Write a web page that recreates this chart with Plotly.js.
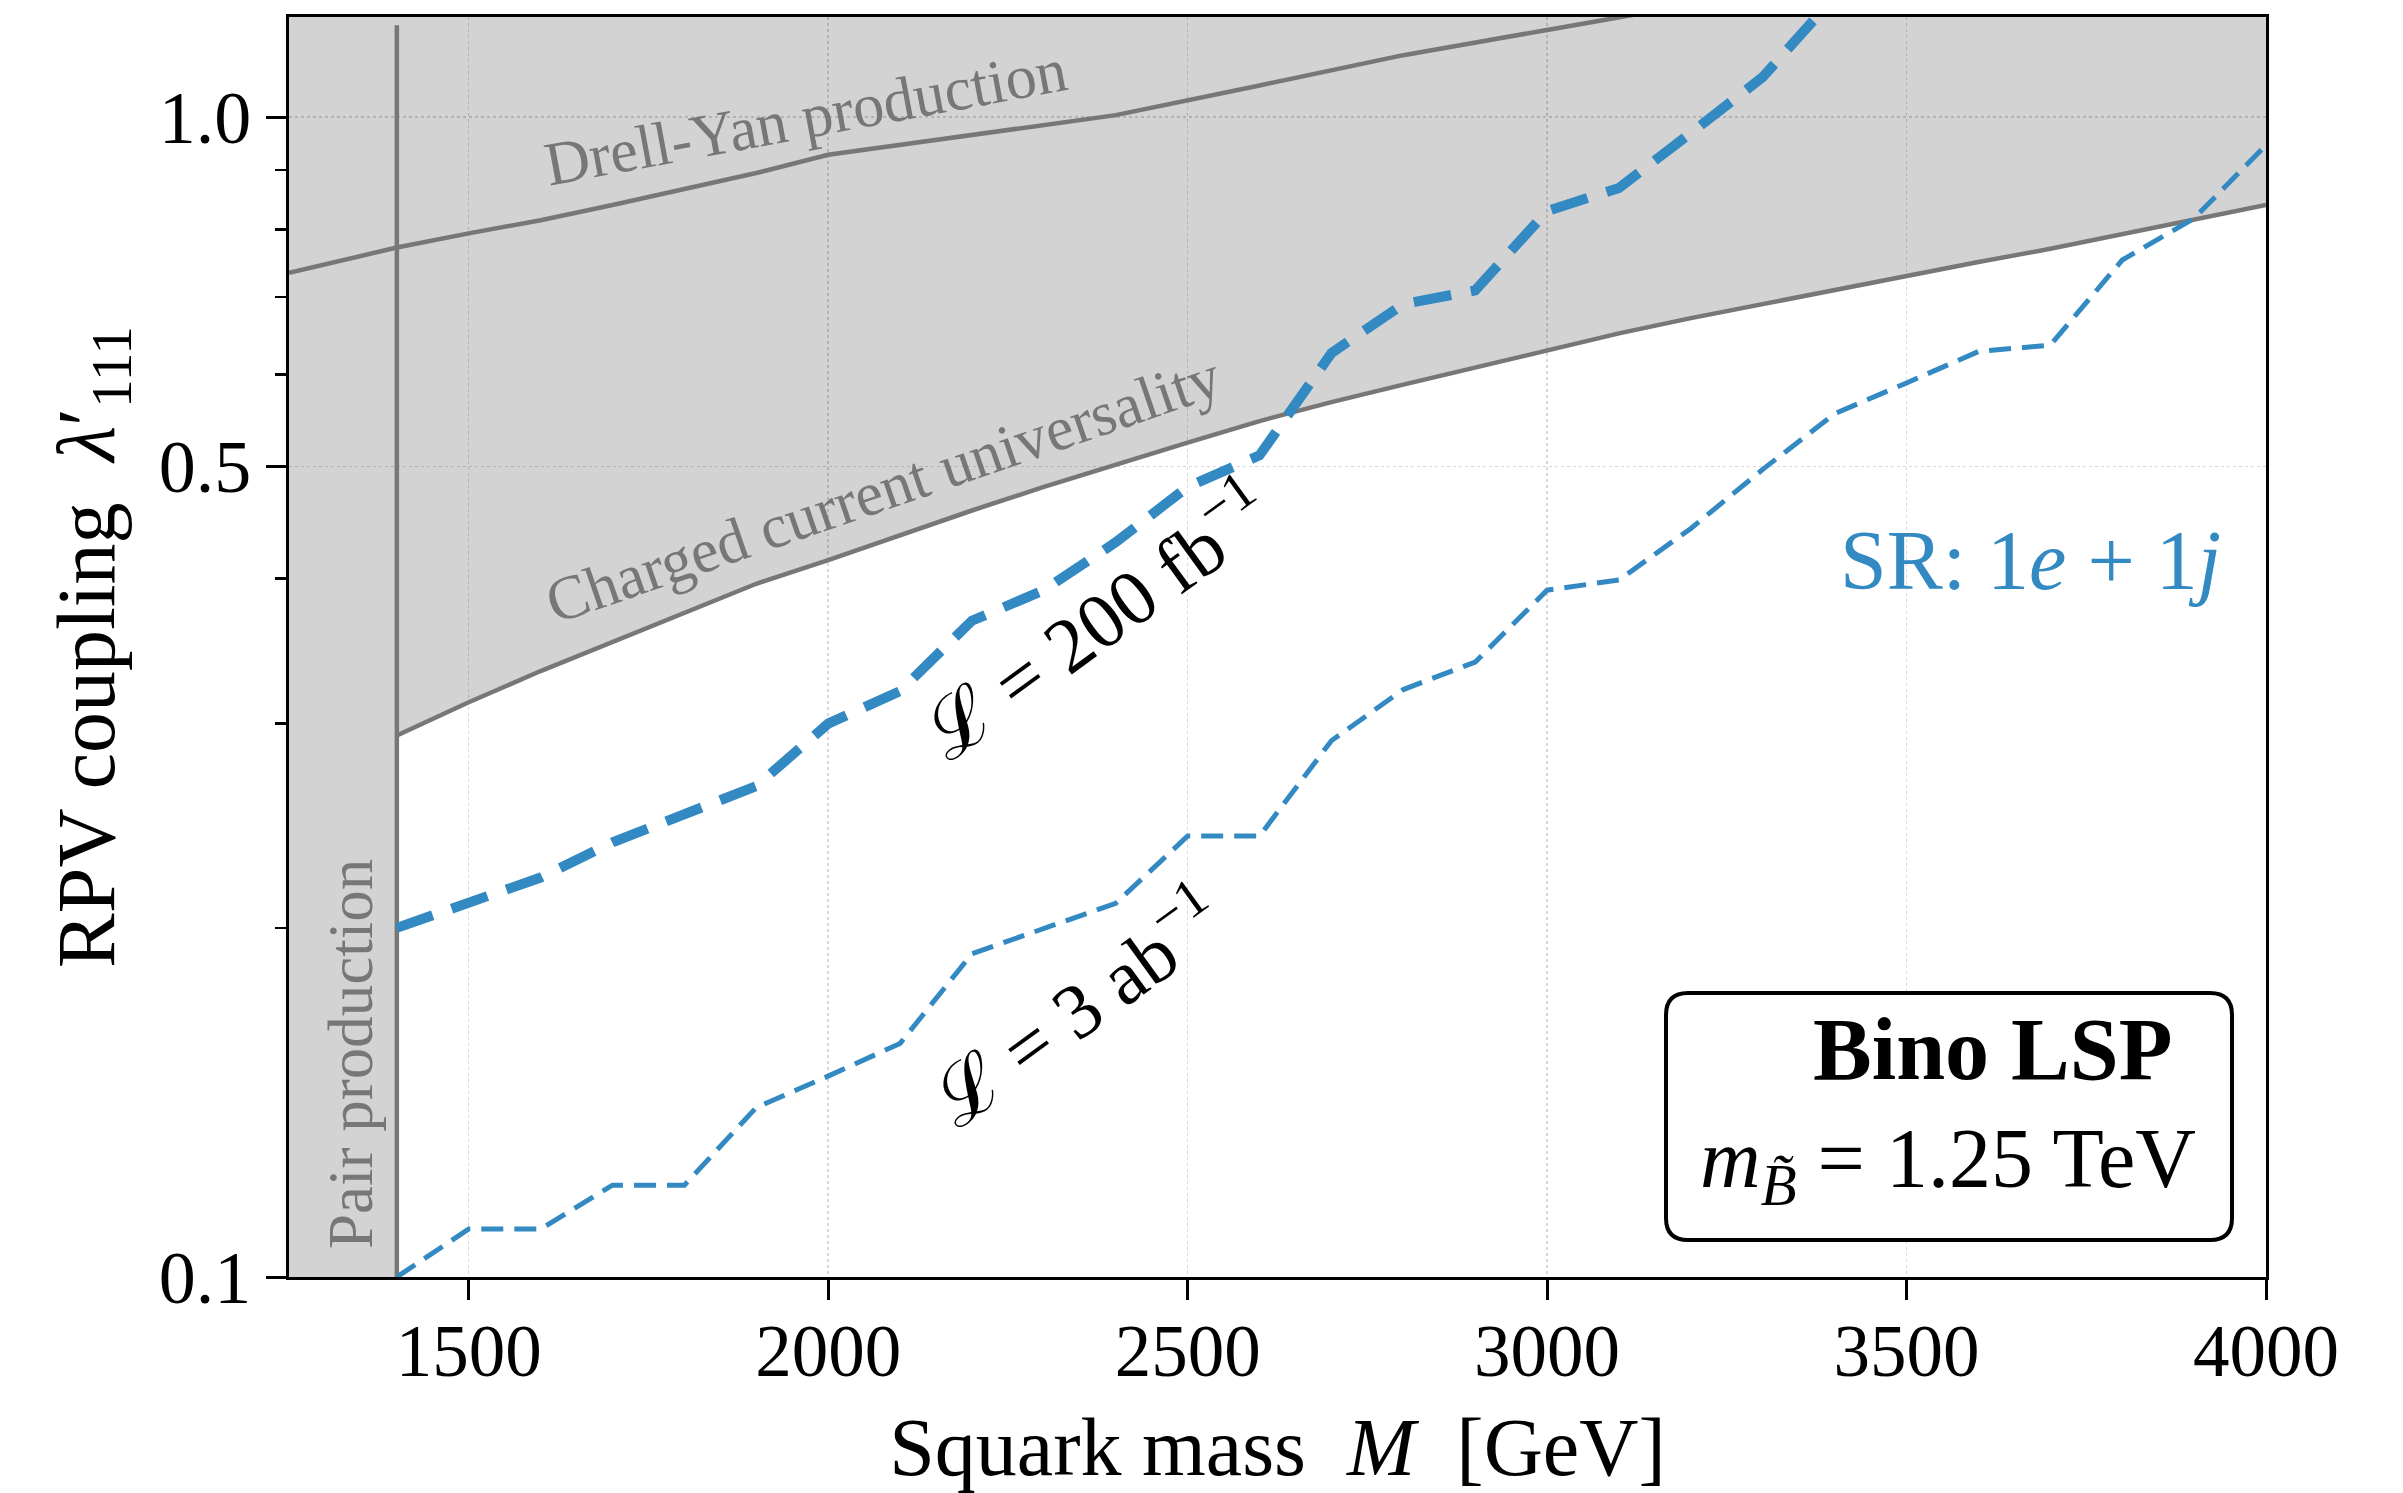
<!DOCTYPE html>
<html>
<head>
<meta charset="utf-8">
<script src="https://cdn.plot.ly/plotly-3.0.1.min.js"></script>
<style>
html, body { margin: 0; padding: 0; background: #ffffff; }
#chart { width: 2403px; height: 1493px; }
</style>
</head>
<body>
<div id="chart"></div>
<script>
// ---------------- data ----------------
const mass200 = [1400,1500,1600,1700,1800,1900,2000,2100,2200,2300,2400,2500,2600,2700,2800,2900,3000,3100,3200,3300,3400];
const lumi200fb = [0.200,0.210,0.221,0.237,0.250,0.265,0.300,0.320,0.368,0.391,0.430,0.480,0.511,0.626,0.690,0.709,0.830,0.869,0.969,1.083,1.27];

const mass3ab = [1400,1500,1600,1700,1800,1900,2000,2100,2200,2300,2400,2500,2600,2700,2800,2900,3000,3100,3200,3300,3400,3500,3600,3700,3800,3900,4000];
const lumi3ab = [0.100,0.110,0.110,0.120,0.120,0.140,0.149,0.159,0.190,0.200,0.210,0.240,0.240,0.290,0.321,0.339,0.391,0.399,0.442,0.497,0.555,0.590,0.628,0.636,0.753,0.818,0.946];

const ccMass = [1400,1500,1600,1700,1800,1900,2000,2100,2200,2300,2400,2500,2600,2700,2800,2900,3000,3100,3200,3300,3400,3500,3600,3700,3800,3900,4000];
const ccCoupling = [0.293,0.313,0.333,0.353,0.374,0.396,0.415,0.436,0.458,0.480,0.502,0.524,0.547,0.568,0.588,0.608,0.630,0.651,0.671,0.690,0.710,0.730,0.750,0.770,0.793,0.816,0.840];

const dyMass = [1250,1400,1500,1600,1700,1800,1900,2000,2200,2400,2600,2800,3000,3200];
const dyCoupling = [0.734,0.772,0.794,0.815,0.840,0.868,0.895,0.928,0.965,1.004,1.065,1.131,1.189,1.25];

const pairMassLimit = 1400;
const pairLineCoupling = [0.1, 1.2];

const massAxisRange = [1250, 4000];
const couplingMin = 0.1;
const couplingTop = 1.22;
const couplingFillTop = 3.0;

const xTickVals = [1500,2000,2500,3000,3500,4000];
const yTickVals = [0.1,0.5,1.0];
const yTickText = ['0.1','0.5','1.0'];
const yMinorVals = [0.2,0.3,0.4,0.6,0.7,0.8,0.9];

// ---------------- styles ----------------
const blue = '#3389c2';
const greyLine = '#777777';
const serif = '"Liberation Serif", "DejaVu Serif", serif';

// excluded region polygon (pair production band + above charged-current bound)
const fillX = [massAxisRange[0], pairMassLimit].concat(ccMass, [massAxisRange[1], massAxisRange[0]]);
const fillY = [couplingMin, couplingMin].concat(ccCoupling, [couplingFillTop, couplingFillTop]);

const traces = [
  { x: fillX, y: fillY, mode: 'lines', fill: 'toself',
    fillcolor: 'rgba(0,0,0,0.173)', line: { width: 0 }, hoverinfo: 'skip' },
  { x: ccMass, y: ccCoupling, mode: 'lines', line: { color: greyLine, width: 4.5 } },
  { x: dyMass, y: dyCoupling, mode: 'lines', line: { color: greyLine, width: 4.5 } },
  { x: [pairMassLimit, pairMassLimit], y: pairLineCoupling, mode: 'lines', line: { color: greyLine, width: 4.5 } },
  { x: mass200, y: lumi200fb, mode: 'lines', line: { color: blue, width: 10, dash: '38px,20px' } },
  { x: mass3ab, y: lumi3ab, mode: 'lines', line: { color: blue, width: 5, dash: '22px,11px' } }
];

const L = 289, R = 2266, T = 17, B = 1277;
const W = R - L, H = B - T;
function px(xp) { return (xp - L) / W; }
function py(yp) { return (B - yp) / H; }

const layout = {
  width: 2403, height: 1493,
  margin: { l: L, r: 2403 - R, t: T, b: 1493 - B, pad: 0 },
  paper_bgcolor: '#ffffff', plot_bgcolor: '#ffffff',
  showlegend: false,
  font: { family: serif, color: '#000000' },
  xaxis: {
    range: massAxisRange, tickvals: xTickVals, ticks: 'outside', ticklen: 20, tickwidth: 3, tickcolor: '#000',
    showline: true, linewidth: 3, linecolor: '#000', mirror: true,
    showgrid: true, gridcolor: '#d8d8d8', gridwidth: 1.5, griddash: 'dot', zeroline: false,
    tickfont: { family: serif, size: 73, color: '#000' }, automargin: false, ticklabelstandoff: -12,
    title: { text: 'Squark mass  <i>M</i>  [GeV]', font: { family: serif, size: 82, color: '#000' }, standoff: 34 }
  },
  yaxis: {
    type: 'log', range: [Math.log10(couplingMin), Math.log10(couplingTop)],
    tickvals: yTickVals, ticktext: yTickText, ticks: 'outside', ticklen: 20, tickwidth: 3, tickcolor: '#000',
    minor: { tickvals: yMinorVals, ticks: 'outside', ticklen: 11, tickwidth: 2.5, tickcolor: '#000', showgrid: false },
    showline: true, linewidth: 3, linecolor: '#000', mirror: true,
    showgrid: true, gridcolor: '#d8d8d8', gridwidth: 1.5, griddash: 'dot', zeroline: false,
    tickfont: { family: serif, size: 74, color: '#000' }, automargin: false,
    title: { text: 'RPV coupling  <i>λ</i>′<sub>111</sub>', font: { family: serif, size: 82, color: '#000' }, standoff: 18 }
  },
  shapes: [
    { type: 'path', xref: 'paper', yref: 'paper',
      path: (function () {
        const x0 = px(1666), x1 = px(2232), y0 = py(1240), y1 = py(993);
        const rx = 22 / W, ry = 22 / H;
        return 'M' + (x0 + rx) + ',' + y0 + ' L' + (x1 - rx) + ',' + y0 +
          ' Q' + x1 + ',' + y0 + ' ' + x1 + ',' + (y0 + ry) +
          ' L' + x1 + ',' + (y1 - ry) + ' Q' + x1 + ',' + y1 + ' ' + (x1 - rx) + ',' + y1 +
          ' L' + (x0 + rx) + ',' + y1 + ' Q' + x0 + ',' + y1 + ' ' + x0 + ',' + (y1 - ry) +
          ' L' + x0 + ',' + (y0 + ry) + ' Q' + x0 + ',' + y0 + ' ' + (x0 + rx) + ',' + y0 + ' Z';
      })(),
      line: { color: '#000', width: 4 }, fillcolor: '#ffffff', layer: 'above' }
  ],
  annotations: [
    { xref: 'paper', yref: 'paper', x: px(805), y: py(117), text: 'Drell-Yan production', showarrow: false,
      textangle: -10.5, font: { family: serif, size: 62, color: greyLine }, xanchor: 'center', yanchor: 'middle' },
    { xref: 'paper', yref: 'paper', x: px(883), y: py(489), text: 'Charged current universality', showarrow: false,
      textangle: -19, font: { family: serif, size: 62, color: greyLine }, xanchor: 'center', yanchor: 'middle' },
    { xref: 'paper', yref: 'paper', x: px(351), y: py(1054), text: 'Pair production', showarrow: false,
      textangle: -90, font: { family: serif, size: 63, color: greyLine }, xanchor: 'center', yanchor: 'middle' },
    { xref: 'paper', yref: 'paper', x: px(1095), y: py(617), text: 'ℒ = 200 fb<sup>−1</sup>', showarrow: false,
      textangle: -36, font: { family: serif, size: 78, color: '#000' }, xanchor: 'center', yanchor: 'middle' },
    { xref: 'paper', yref: 'paper', x: px(1075), y: py(1004), text: 'ℒ = 3 ab<sup>−1</sup>', showarrow: false,
      textangle: -36, font: { family: serif, size: 78, color: '#000' }, xanchor: 'center', yanchor: 'middle' },
    { xref: 'paper', yref: 'paper', x: px(2030), y: py(560), text: 'SR: 1<i>e</i> + 1<i>j</i>', showarrow: false,
      font: { family: serif, size: 84, color: blue }, xanchor: 'center', yanchor: 'middle' },
    { xref: 'paper', yref: 'paper', x: px(1992), y: py(1049), text: '<b>Bino LSP</b>', showarrow: false,
      font: { family: serif, size: 88, color: '#000' }, xanchor: 'center', yanchor: 'middle' },
    { xref: 'paper', yref: 'paper', x: px(1948), y: py(1165), text: '<i>m</i><sub><i>B̃</i></sub> = 1.25 TeV', showarrow: false,
      font: { family: serif, size: 84, color: '#000' }, xanchor: 'center', yanchor: 'middle' }
  ]
};

Plotly.newPlot('chart', traces, layout, { staticPlot: true, displayModeBar: false });
</script>
</body>
</html>
